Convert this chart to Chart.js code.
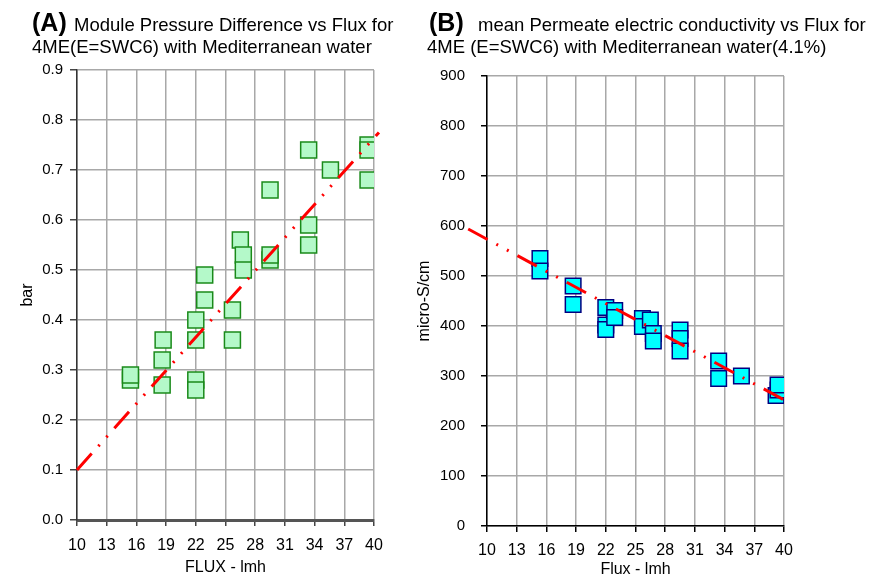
<!DOCTYPE html>
<html>
<head>
<meta charset="utf-8">
<script src="https://cdn.jsdelivr.net/npm/chart.js@4.4.1/dist/chart.umd.min.js"></script>
<style>
  html, body { margin: 0; padding: 0; background: #fff; }
  #wrap { position: relative; width: 871px; height: 579px; }
  #chartA { position: absolute; left: 0; top: 0; }
  #chartB { position: absolute; left: 395px; top: 0; }
</style>
</head>
<body>
<div id="wrap">
  <canvas id="chartA" width="395" height="579"></canvas>
  <canvas id="chartB" width="476" height="579"></canvas>
</div>
<script>
// --- 1. DONNÉES ---

// (A) Différence de pression du module (bar) selon le flux (lmh)
const fluxA = [15.4, 15.4, 18.7, 18.6, 18.6, 22.0, 22.0, 22.0, 22.0, 22.9, 22.9, 25.7, 25.7,
               26.5, 26.8, 26.8, 29.5, 29.5, 29.5, 33.4, 33.4, 33.4, 35.6, 39.4, 39.4, 39.4];
const pressureA = [0.28, 0.29, 0.36, 0.32, 0.27, 0.40, 0.36, 0.28, 0.26, 0.49, 0.44, 0.42, 0.36,
                   0.56, 0.53, 0.50, 0.66, 0.52, 0.53, 0.74, 0.59, 0.55, 0.70, 0.75, 0.74, 0.68];
// Droite de tendance (extrémités)
const trendFluxA = [10, 40.5];
const trendPressureA = [0.1, 0.775];

// (B) Conductivité moyenne du perméat (micro-S/cm) selon le flux
const fluxB = [15.35, 15.35, 18.7, 18.7, 22.0, 22.0, 22.0, 22.9, 22.9, 25.7, 25.7, 26.5,
               26.8, 26.8, 29.5, 29.5, 29.5, 33.4, 33.4, 35.7, 39.2, 39.4, 39.4];
const conductB = [535, 510, 480, 443, 437, 402, 393, 431, 417, 415, 399, 412,
                  385, 370, 392, 375, 350, 330, 295, 300, 261, 272, 282];
const trendFluxB = [8.1, 40.3];
const trendConductB = [594, 249];

// Graduations des axes
const fluxMin = 10, fluxMax = 40, fluxStep = 3;
const pressMin = 0, pressMax = 0.9, pressStep = 0.1;
const condMin = 0, condMax = 900, condStep = 100;

const toPoints = (xs, ys) => xs.map((x, i) => ({ x: x, y: ys[i] }));

// --- 2. CONFIGURATION ---

Chart.defaults.font.family = "'Liberation Sans', Arial, sans-serif";
Chart.defaults.color = '#000';

// Titre avec partie en gras, dessiné directement sur le canvas
function titlePlugin(id, parts) {
    return {
        id: id,
        afterDraw(chart) {
            const ctx = chart.ctx;
            ctx.save();
            ctx.fillStyle = '#000';
            ctx.textBaseline = 'alphabetic';
            parts.forEach(p => {
                ctx.font = p.font;
                ctx.fillText(p.text, p.x, p.y);
            });
            ctx.restore();
        }
    };
}

const boldFont = "bold 25px 'Liberation Sans', Arial, sans-serif";
const titleFont = "18.5px 'Liberation Sans', Arial, sans-serif";

const dashPattern = [22, 10, 2, 10, 2, 10];

// Graphique (A)
new Chart(document.getElementById('chartA'), {
    type: 'scatter',
    data: {
        datasets: [{
            label: 'tendance',
            data: toPoints(trendFluxA, trendPressureA),
            showLine: true,
            borderColor: '#ff0000',
            borderWidth: 3,
            borderDash: dashPattern,
            pointRadius: 0,
            clip: false,
            order: 0
        }, {
            label: 'DP',
            data: toPoints(fluxA, pressureA),
            pointStyle: 'rect',
            pointRadius: 11.3,
            pointHoverRadius: 11.3,
            backgroundColor: '#b4f9c9',
            borderColor: '#1a8a1a',
            borderWidth: 1.5,
            order: 1
        }]
    },
    options: {
        responsive: false,
        animation: false,
        layout: { padding: { top: 70, right: 21, left: 0, bottom: 0 } },
        plugins: { legend: { display: false }, tooltip: { enabled: false } },
        scales: {
            x: {
                type: 'linear', min: fluxMin, max: fluxMax,
                ticks: { stepSize: fluxStep, font: { size: 16 }, padding: 10, maxRotation: 0 },
                grid: { color: '#a8a8a8', lineWidth: 1.5, tickLength: 6, tickColor: '#444' },
                border: { color: '#555', width: 3 },
                title: { display: true, text: 'FLUX - lmh', font: { size: 16 }, padding: { top: 0, bottom: 2 } },
                afterFit: s => { s.height = 59; }
            },
            y: {
                min: pressMin, max: pressMax,
                ticks: { stepSize: pressStep, font: { size: 15 }, padding: 7, callback: v => v.toFixed(1) },
                grid: { color: '#a8a8a8', lineWidth: 1.5, tickLength: 7, tickColor: '#444' },
                border: { color: '#333', width: 1.5 },
                title: { display: true, text: 'bar', font: { size: 16 }, padding: { top: 18, bottom: 0 } },
                afterFit: s => { s.width = 77; }
            }
        }
    },
    plugins: [titlePlugin('titreA', [
        { text: '(A)', x: 32, y: 31, font: boldFont },
        { text: 'Module Pressure Difference vs Flux for', x: 74, y: 31, font: titleFont },
        { text: '4ME(E=SWC6) with Mediterranean water', x: 32, y: 53, font: titleFont }
    ])]
});

// Graphique (B)
new Chart(document.getElementById('chartB'), {
    type: 'scatter',
    data: {
        datasets: [{
            label: 'tendance',
            data: toPoints(trendFluxB, trendConductB),
            showLine: true,
            borderColor: '#ff0000',
            borderWidth: 3,
            borderDash: dashPattern,
            pointRadius: 0,
            clip: false,
            order: 0
        }, {
            label: 'EC',
            data: toPoints(fluxB, conductB),
            pointStyle: 'rect',
            pointRadius: 11,
            pointHoverRadius: 11,
            backgroundColor: '#00ffff',
            borderColor: '#000080',
            borderWidth: 1.5,
            order: 1
        }]
    },
    options: {
        responsive: false,
        animation: false,
        layout: { padding: { top: 76, right: 87, left: 0, bottom: 0 } },
        plugins: { legend: { display: false }, tooltip: { enabled: false } },
        scales: {
            x: {
                type: 'linear', min: fluxMin, max: fluxMax,
                ticks: { stepSize: fluxStep, font: { size: 16 }, padding: 9, maxRotation: 0 },
                grid: { color: '#a8a8a8', lineWidth: 1.5, tickLength: 6, tickColor: '#000' },
                border: { color: '#000', width: 1.5 },
                title: { display: true, text: 'Flux - lmh', font: { size: 16 }, padding: { top: 0, bottom: 0 } },
                afterFit: s => { s.height = 53; }
            },
            y: {
                min: condMin, max: condMax,
                ticks: { stepSize: condStep, font: { size: 15 }, padding: 16 },
                grid: { color: '#a8a8a8', lineWidth: 1.5, tickLength: 6, tickColor: '#000' },
                border: { color: '#000', width: 1.5 },
                title: { display: true, text: 'micro-S/cm', font: { size: 16 }, padding: { top: 20, bottom: 0 } },
                afterFit: s => { s.width = 92; }
            }
        }
    },
    plugins: [titlePlugin('titreB', [
        { text: '(B)', x: 34, y: 31, font: boldFont },
        { text: 'mean Permeate electric conductivity vs Flux for', x: 83, y: 31, font: titleFont },
        { text: '4ME (E=SWC6) with Mediterranean water(4.1%)', x: 32, y: 53, font: titleFont }
    ])]
});
</script>
</body>
</html>
